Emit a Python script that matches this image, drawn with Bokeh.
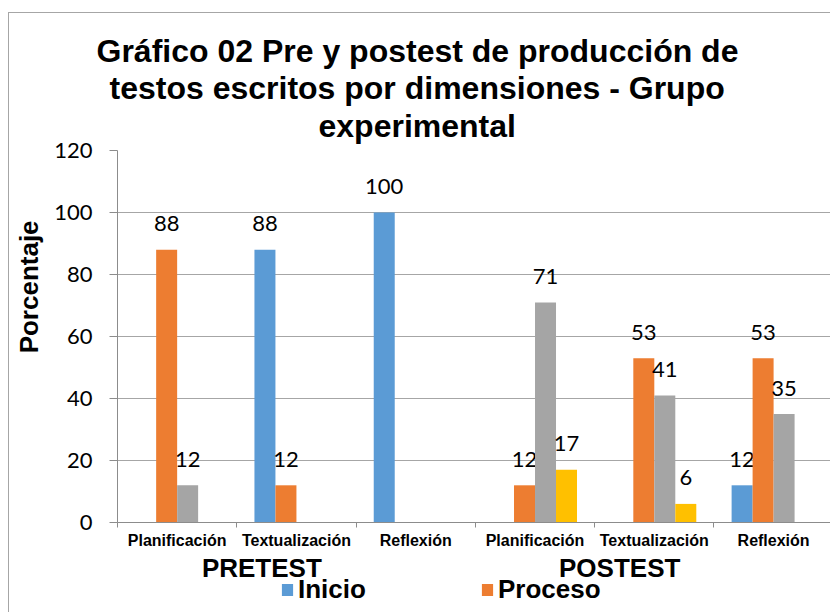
import math
from bokeh.plotting import figure
from bokeh.layouts import column
from bokeh.models import (ColumnDataSource, FixedTicker, LinearAxis, Legend,
                          LegendItem, Range1d, Title)
from bokeh.core.properties import value
from bokeh.embed import file_html
from bokeh.resources import INLINE

# ---------------- data ----------------
title_lines = ["Gráfico 02 Pre y postest de producción de",
               "testos escritos por dimensiones - Grupo",
               "experimental"]
phases = ["PRETEST", "POSTEST"]
dimensions = ["Planificación", "Textualización", "Reflexión",
              "Planificación", "Textualización", "Reflexión"]
series_names = ["Inicio", "Proceso", "Logro", "Logro destacado"]
inicio = [0, 88, 100, 0, 0, 12]
proceso = [88, 12, 0, 12, 53, 53]
logro = [12, 0, 0, 71, 41, 35]
destacado = [0, 0, 0, 17, 6, 0]
y_ticks = [0, 20, 40, 60, 80, 100, 120]
y_label = "Porcentaje"

colors = ["#5B9BD5", "#ED7D31", "#A5A5A5", "#FFC000"]
series_values = [inicio, proceso, logro, destacado]

# ---------------- layout ----------------
GRID = "#A6A6A6"
AXIS = "#8C8C8C"
ARIAL = "Liberation Sans"
NUM = "Lato"
BAR_W = 0.176
n_groups = len(dimensions)

p = figure(width=821, height=572, output_backend="svg", toolbar_location=None,
           x_range=Range1d(-0.5, 5.477), y_range=Range1d(0, 120),
           min_border_left=108, min_border_right=0, min_border_top=137,
           min_border_bottom=60)
p.outline_line_color = None
p.background_fill_color = "white"
p.border_fill_color = "white"

centers = list(range(n_groups))
renderers = []
for k, (name, vals, col) in enumerate(zip(series_names, series_values, colors)):
    off = (k - 1.5) * BAR_W
    xs = [c + off for c in centers]
    src = ColumnDataSource(dict(x=xs, top=vals))
    r = p.vbar(x="x", top="top", width=BAR_W, source=src, fill_color=col,
               line_color=None)
    renderers.append(r)
    lx = [x for x, v in zip(xs, vals) if v != 0]
    lv = [v for v in vals if v != 0]
    lsrc = ColumnDataSource(dict(x=lx, y=lv, t=[str(v) for v in lv]))
    p.text(x="x", y="y", text="t", source=lsrc, text_align="center",
           text_baseline="middle", y_offset=-26, text_font=value(NUM),
           text_font_size="22px", text_color="black")

# y axis
p.yaxis.ticker = FixedTicker(ticks=y_ticks)
p.yaxis.major_label_text_font = NUM
p.yaxis.major_label_text_font_size = "22px"
p.yaxis.major_label_text_color = "black"
p.yaxis.major_tick_out = 8
p.yaxis.major_tick_in = 0
p.yaxis.minor_tick_line_color = None
p.yaxis.axis_line_color = AXIS
p.yaxis.major_tick_line_color = AXIS
p.yaxis.major_label_standoff = 17
p.ygrid.grid_line_color = GRID
p.ygrid.ticker = FixedTicker(ticks=y_ticks)
p.xgrid.visible = False

# y axis title as a label-only axis (placed off-centre like the reference)
ylab_pos = 76
ya2 = LinearAxis(ticker=FixedTicker(ticks=[ylab_pos]),
                 major_label_overrides={ylab_pos: y_label})
ya2.axis_line_color = None
ya2.major_tick_line_color = None
ya2.minor_tick_line_color = None
ya2.major_tick_out = 0
ya2.major_tick_in = 0
ya2.major_label_orientation = "vertical"
ya2.major_label_text_font = ARIAL
ya2.major_label_text_font_style = "bold"
ya2.major_label_text_font_size = "26px"
ya2.major_label_text_color = "black"
ya2.major_label_standoff = 7
p.add_layout(ya2, "left")

# x axis: dimension labels, minor ticks at group boundaries
xa = p.xaxis[0]
xa.ticker = FixedTicker(ticks=centers,
                        minor_ticks=[c - 0.5 for c in centers] + [n_groups - 0.5])
xa.major_label_overrides = {c: d for c, d in zip(centers, dimensions)}
xa.major_tick_out = 0
xa.major_tick_in = 0
xa.major_tick_line_color = None
xa.minor_tick_out = 5
xa.minor_tick_in = 0
xa.minor_tick_line_color = AXIS
xa.axis_line_color = AXIS
xa.major_label_text_font = ARIAL
xa.major_label_text_font_style = "bold"
xa.major_label_text_font_size = "16px"
xa.major_label_text_color = "black"
xa.major_label_standoff = 4

# phase labels axis
phase_pos = [round(1 - 0.29, 3), round(4 - 0.29, 3)]
pa = LinearAxis(ticker=FixedTicker(ticks=phase_pos),
                major_label_overrides={pp: ph for pp, ph in zip(phase_pos, phases)})
pa.axis_line_color = None
pa.major_tick_line_color = None
pa.minor_tick_line_color = None
pa.major_tick_out = 0
pa.major_tick_in = 0
pa.major_label_text_font = ARIAL
pa.major_label_text_font_style = "bold"
pa.major_label_text_font_size = "26px"
pa.major_label_text_color = "black"
pa.major_label_standoff = 1
p.add_layout(pa, "below")

# title lines (nearest to the plot first)
title_offsets = [-21, -8, 201]
title_standoffs = [11, -13, 13]
for line, off, so in reversed(list(zip(title_lines, title_offsets, title_standoffs))):
    p.add_layout(Title(text=line, align="left", offset=off, standoff=so,
                       vertical_align="bottom", text_font=ARIAL,
                       text_font_style="bold", text_font_size="32px",
                       text_color="black"), "above")

# legend strip (only the visible row of the reference)
lf = figure(width=821, height=37, output_backend="svg", toolbar_location=None,
            x_range=Range1d(0, 1), y_range=Range1d(0, 1),
            x_axis_location=None, y_axis_location=None,
            min_border_left=0, min_border_right=0, min_border_top=0,
            min_border_bottom=0)
lf.margin = (-10, 0, 0, 0)
lf.grid.visible = False
lf.outline_line_color = None
lf.background_fill_alpha = 0
lf.border_fill_alpha = 0
leg_items = []
for name, col in zip(series_names[:2], colors[:2]):
    # zero-height proxy glyph: only supplies the legend swatch
    proxy = ColumnDataSource(dict(x=[0], top=[0], bottom=[0]))
    rr = lf.vbar(x="x", top="top", bottom="bottom", width=0.01, source=proxy,
                 fill_color=col, line_color=None)
    leg_items.append(LegendItem(label=name, renderers=[rr]))
legend = Legend(items=leg_items, location=(163, 7), orientation="horizontal",
                glyph_width=14, glyph_height=15, label_standoff=4, label_width=178,
                spacing=4, padding=0, margin=0, border_line_color=None,
                background_fill_alpha=0, label_text_font=ARIAL,
                label_text_font_style="bold", label_text_font_size="26px",
                label_text_color="black")
lf.add_layout(legend)

layout = column(p, lf, spacing=0)
layout.margin = (13, 0, 0, 9)
layout.styles = {"outline": "1px solid #A6A6A6"}

open("out.html", "w").write(file_html(layout, INLINE))
